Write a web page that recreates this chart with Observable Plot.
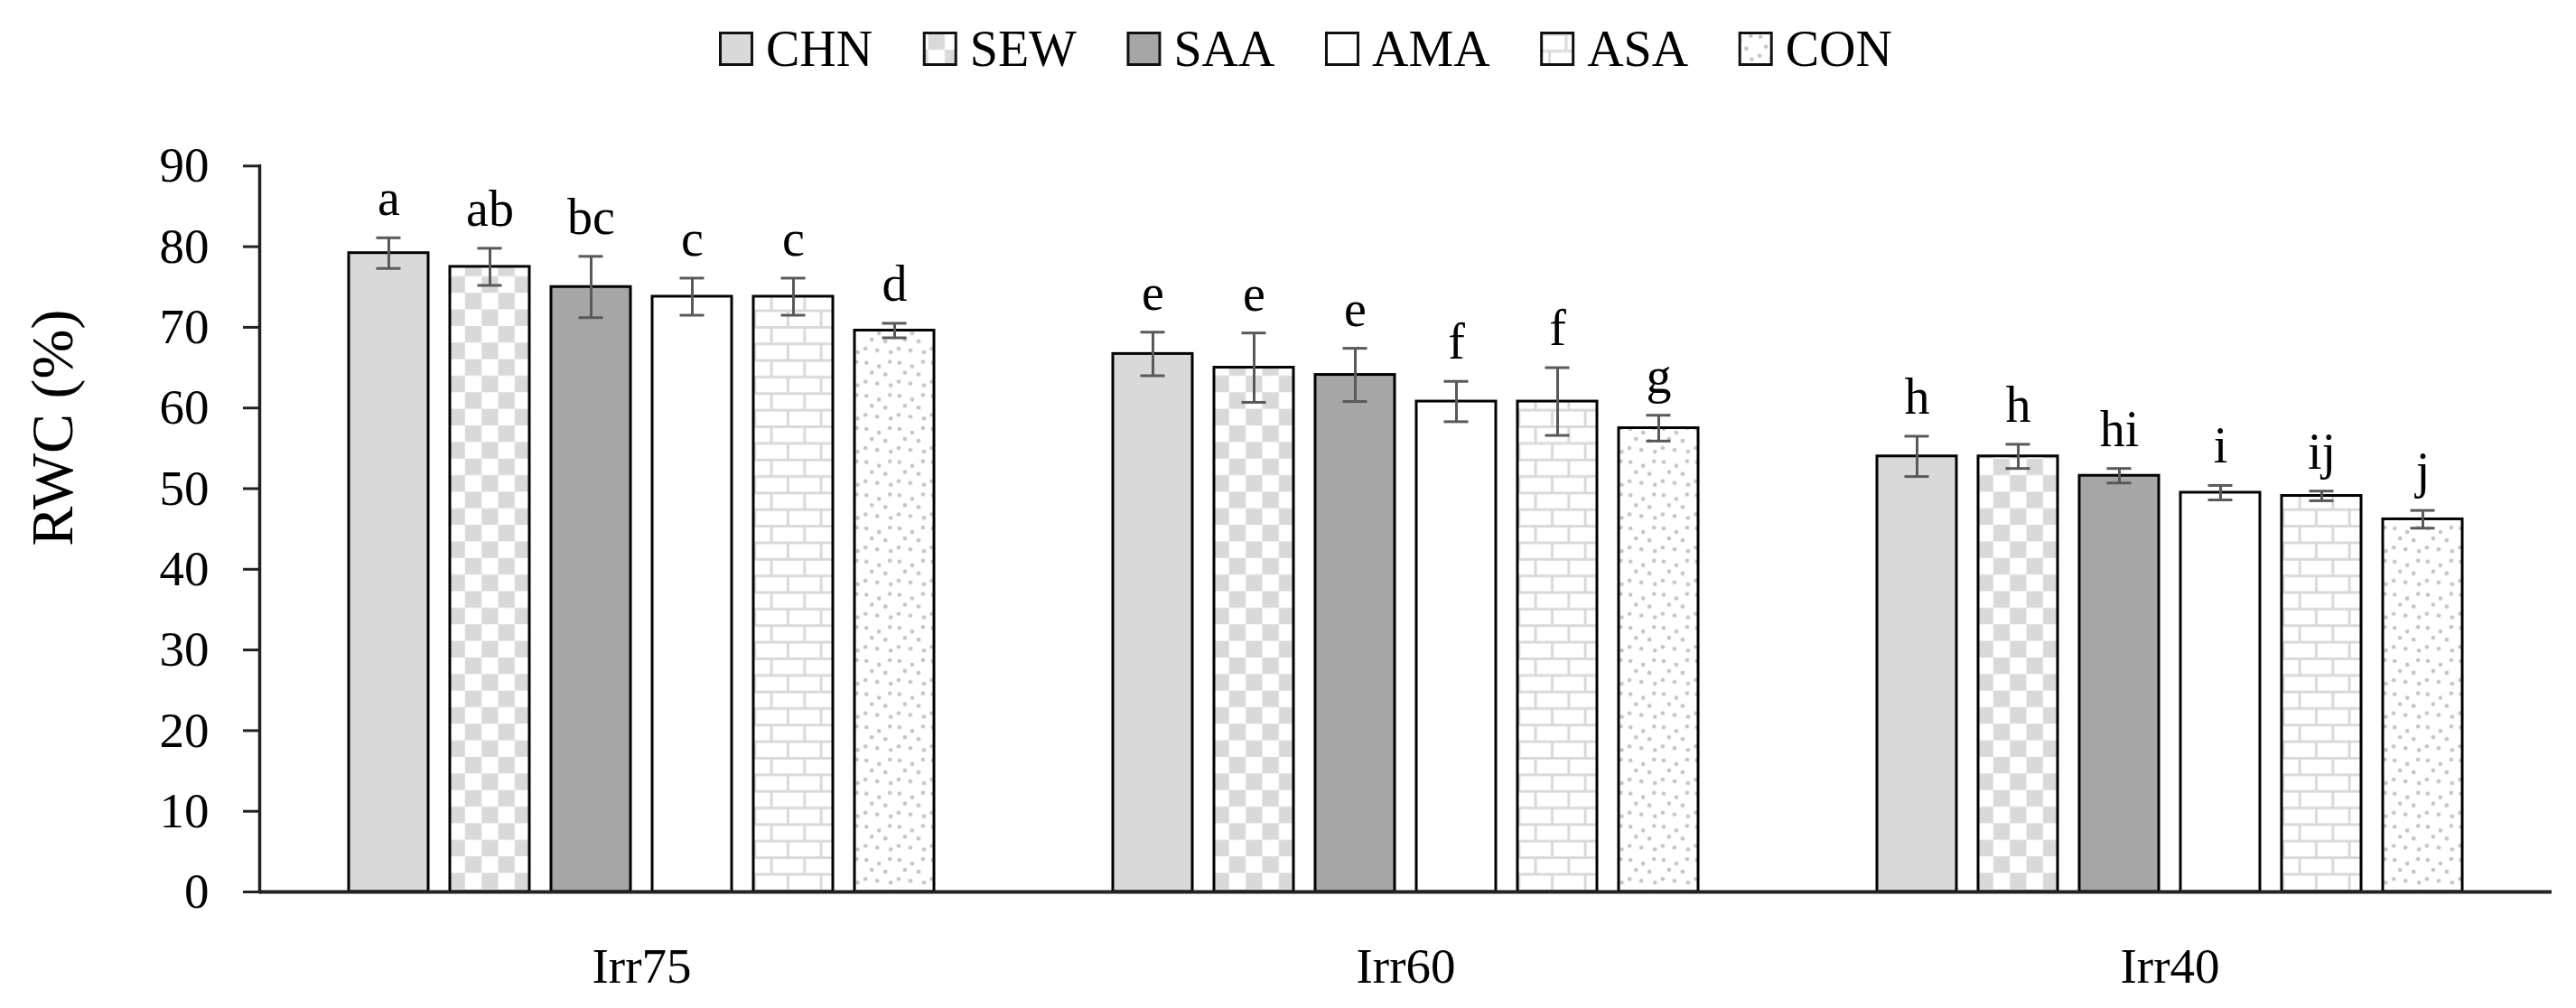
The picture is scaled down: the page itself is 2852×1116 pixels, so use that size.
<!DOCTYPE html>
<html>
<head>
<meta charset="utf-8">
<script src="https://cdn.jsdelivr.net/npm/d3@7"></script>
<script src="https://cdn.jsdelivr.net/npm/@observablehq/plot@0.6"></script>
<style>
  html, body { margin: 0; padding: 0; background: #fff; }
  #legend { display: block; }
  #chart svg { display: block; }
</style>
</head>
<body>
<svg width="0" height="0" style="position:absolute">
  <defs>
    <pattern id="pSEW" patternUnits="userSpaceOnUse" width="36.7" height="36.7">
      <rect width="36.7" height="36.7" fill="#ffffff"/>
      <rect x="0" y="0" width="18.35" height="18.35" fill="#d9d9d9"/>
      <rect x="18.35" y="18.35" width="18.35" height="18.35" fill="#d9d9d9"/>
    </pattern>
    <pattern id="pASA" patternUnits="userSpaceOnUse" width="36.7" height="36.7">
      <rect width="36.7" height="36.7" fill="#ffffff"/>
      <line x1="0" y1="1.5" x2="36.7" y2="1.5" stroke="#d9d9d9" stroke-width="3"/>
      <line x1="0" y1="19.85" x2="36.7" y2="19.85" stroke="#d9d9d9" stroke-width="3"/>
      <line x1="9" y1="1.5" x2="9" y2="19.85" stroke="#d9d9d9" stroke-width="3"/>
      <line x1="27.35" y1="19.85" x2="27.35" y2="36.7" stroke="#d9d9d9" stroke-width="3"/>
    </pattern>
    <pattern id="pCON" patternUnits="userSpaceOnUse" width="36.7" height="36.7">
      <rect width="36.7" height="36.7" fill="#ffffff"/>
      <circle cx="4" cy="4" r="2.3" fill="#c4c4c4"/>
      <circle cx="18" cy="8" r="2.3" fill="#c4c4c4"/>
      <circle cx="30" cy="3" r="2.3" fill="#c4c4c4"/>
      <circle cx="10" cy="15" r="2.3" fill="#c4c4c4"/>
      <circle cx="25" cy="17" r="2.3" fill="#c4c4c4"/>
      <circle cx="3" cy="25" r="2.3" fill="#c4c4c4"/>
      <circle cx="16" cy="27" r="2.3" fill="#c4c4c4"/>
      <circle cx="31" cy="29" r="2.3" fill="#c4c4c4"/>
    </pattern>
  </defs>
</svg>
<div id="legend"></div>
<div id="chart"></div>
<script>
// ---- data ----
const groups = ["Irr75", "Irr60", "Irr40"];
const series = ["CHN", "SEW", "SAA", "AMA", "ASA", "CON"];
const yTicks = [0, 10, 20, 30, 40, 50, 60, 70, 80, 90];

const rwcIrr75 = [79.2, 77.5, 75.0, 73.8, 73.8, 69.6];
const rwcIrr60 = [66.7, 65.0, 64.1, 60.8, 60.8, 57.5];
const rwcIrr40 = [54.0, 54.0, 51.6, 49.5, 49.1, 46.2];

const errIrr75 = [1.9, 2.3, 3.8, 2.3, 2.3, 0.9];
const errIrr60 = [2.7, 4.3, 3.3, 2.5, 4.2, 1.6];
const errIrr40 = [2.5, 1.5, 0.9, 0.9, 0.6, 1.1];

const letIrr75 = ["a", "ab", "bc", "c", "c", "d"];
const letIrr60 = ["e", "e", "e", "f", "f", "g"];
const letIrr40 = ["h", "h", "hi", "i", "ij", "j"];

const fills = ["#d9d9d9", "url(#pSEW)", "#a6a6a6", "#ffffff", "url(#pASA)", "url(#pCON)"];

// ---- table ----
const means = [rwcIrr75, rwcIrr60, rwcIrr40];
const errs = [errIrr75, errIrr60, errIrr40];
const lets = [letIrr75, letIrr60, letIrr40];
const data = [];
groups.forEach((g, gi) => series.forEach((s, si) => {
  data.push({group: g, series: s, mean: means[gi][si], err: errs[gi][si], letter: lets[gi][si]});
}));

const FONT = "'Liberation Serif', 'Times New Roman', serif";

// ---- legend ----
const lsvg = d3.select("#legend").append("svg")
  .attr("width", 2852).attr("height", 100)
  .style("font-family", FONT).style("font-size", "56px");
let lx = 797.5;
series.forEach((s, i) => {
  lsvg.append("rect").attr("x", lx).attr("y", 36.5).attr("width", 35).attr("height", 35)
    .attr("fill", fills[i]).attr("stroke", "#111").attr("stroke-width", 3);
  const t = lsvg.append("text").attr("x", lx + 50.5).attr("y", 73).attr("fill", "#000").text(s);
  const w = t.node().getComputedTextLength();
  lx = lx + 50.5 + w + 57;
});

// ---- chart ----
const lo = d => d.mean - d.err;
const hi = d => d.mean + d.err;

const plot = Plot.plot({
  width: 2852,
  height: 1016,
  marginLeft: 286,
  marginRight: 27,
  marginTop: 79.3,
  marginBottom: 133,
  style: {fontFamily: FONT, fontSize: "55px", color: "#000", background: "#fff", overflow: "visible"},
  fx: {domain: groups, padding: 0, label: null},
  x: {domain: series, paddingInner: 0.2103, paddingOuter: 0.8598, axis: null},
  y: {domain: [0, 90]},
  color: {type: "ordinal", domain: series, range: fills},
  marks: [
    Plot.barY(data, {fx: "group", x: "series", y: "mean", fill: "series", stroke: "#000", strokeWidth: 3}),
    Plot.ruleY([0], {stroke: "#222", strokeWidth: 4}),
    Plot.frame({anchor: "left", facetAnchor: "left", stroke: "#222", strokeWidth: 3.5}),
    Plot.ruleX(data, {fx: "group", x: "series", y1: lo, y2: hi, stroke: "#595959", strokeWidth: 3}),
    Plot.tickY(data, {fx: "group", x: "series", y: lo, insetLeft: 30.5, insetRight: 30.5, stroke: "#595959", strokeWidth: 3}),
    Plot.tickY(data, {fx: "group", x: "series", y: hi, insetLeft: 30.5, insetRight: 30.5, stroke: "#595959", strokeWidth: 3}),
    Plot.text(data, {fx: "group", x: "series", y: hi, text: "letter", dy: -43, fontSize: 56, fill: "#000"}),
    Plot.axisY({ticks: yTicks, tickSize: 18, tickPadding: 38, stroke: "#222", strokeWidth: 3, label: null, fontSize: 55, fill: "#000"}),
    Plot.axisFx({anchor: "bottom", tickSize: 0, tickPadding: 61, label: null, fontSize: 55, fill: "#000"}),
    Plot.text([{fx: "Irr75", t: "RWC (%)"}], {fx: "fx", text: "t", frameAnchor: "left", rotate: -90, dx: -229, dy: 19, fontSize: 66, fill: "#000"})
  ]
});
document.getElementById("chart").appendChild(plot);
</script>
</body>
</html>
